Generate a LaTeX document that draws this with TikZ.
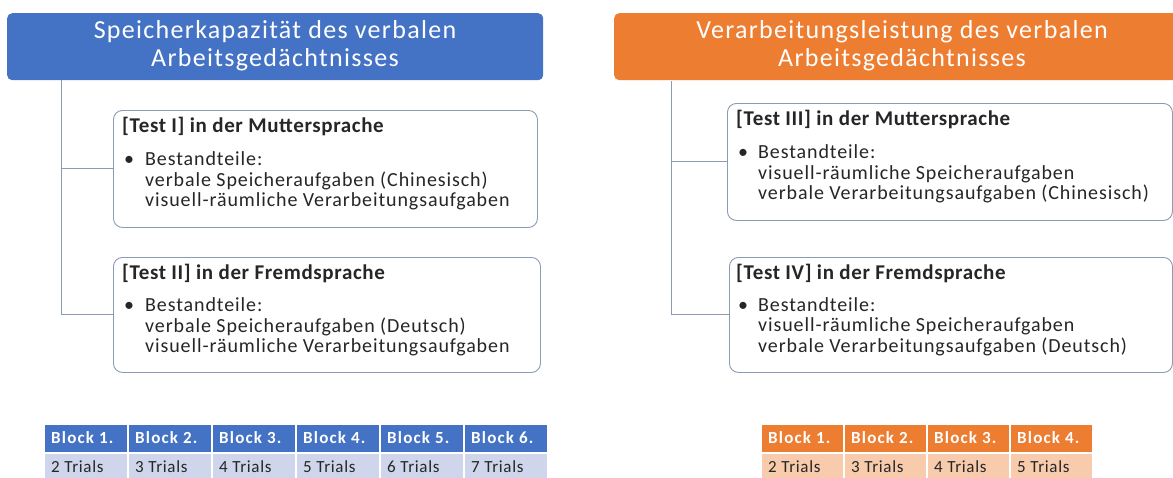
\documentclass[tikz,border=0pt]{standalone}
\usepackage{fontspec}
\setmainfont{Carlito}
\newfontfamily\titlefont[LetterSpace=5]{Carlito}
\newfontfamily\headfont[LetterSpace=3]{Carlito}
\newfontfamily\bodyfont[LetterSpace=4.5]{Carlito}
\newfontfamily\cellbfont[LetterSpace=7]{Carlito}
\newfontfamily\cellfont[LetterSpace=4]{Carlito}
\begin{document}
\begin{tikzpicture}[x=1pt,y=-1pt,
  titlebox/.style={rounded corners=5pt, minimum width=#1, minimum height=67pt, anchor=north west, inner sep=0pt},
  testbox/.style={draw=boxline, line width=0.9pt, rounded corners=9pt, fill=white, anchor=north west, inner sep=0pt},
  conn/.style={draw=connline, line width=1pt},
  titletext/.style={text=white, font=\titlefont\fontsize{26}{28}\selectfont, align=center},
  headtext/.style={font=\headfont\fontsize{21}{22}\selectfont\bfseries, anchor=base west, inner sep=0pt, text=black!85},
  bodytext/.style={font=\bodyfont\fontsize{20}{22}\selectfont, anchor=base west, inner sep=0pt, text=black!85},
  hcell/.style={fill=#1, draw=white, line width=1.5pt, anchor=north west, minimum height=29pt, inner sep=0pt},
  rcell/.style={fill=#1, draw=white, line width=1.5pt, anchor=north west, minimum height=26pt, inner sep=0pt},
  cellhead/.style={font=\cellbfont\fontsize{17}{19}\selectfont\bfseries, text=white, anchor=base west, inner sep=0pt},
  celltext/.style={font=\cellfont\fontsize{17}{19}\selectfont, text=black!85, anchor=base west, inner sep=0pt}
]
\definecolor{hblue}{HTML}{4472C4}
\definecolor{horange}{HTML}{ED7D31}
\definecolor{lblue}{HTML}{CFD5EA}
\definecolor{lorange}{HTML}{F8CBAD}
\definecolor{boxline}{HTML}{8A9BB3}
\definecolor{connline}{HTML}{8A9BB3}

\useasboundingbox (0,0) rectangle (1173,477);
\clip (0,0) rectangle (1173,477);

% ---- left column: storage capacity ----
\node[titlebox=536pt, fill=hblue] (h1) at (7,13) {};
\node[titletext] (h1txt) at (275,46) {Speicherkapazität des verbalen\\Arbeitsgedächtnisses};

\node[testbox, minimum width=424pt, minimum height=117pt] (t1) at (113,110) {};
\node[testbox, minimum width=427pt, minimum height=115pt] (t2) at (113,257) {};
\coordinate (s1) at (61,80);
\draw[conn] (s1) |- (t1.west);
\draw[conn] (s1) |- (t2.west);

\node[headtext] (t1a) at (122,132) {[Test I] in der Muttersprache};
\node[bodytext] (t1b) at (124,165) {•};
\node[bodytext] (t1c) at (145,165) {Bestandteile:};
\node[bodytext] (t1d) at (145,186) {verbale Speicheraufgaben (Chinesisch)};
\node[bodytext] (t1e) at (145,206) {visuell-räumliche Verarbeitungsaufgaben};

\node[headtext] (t2a) at (122,279) {[Test II] in der Fremdsprache};
\node[bodytext] (t2b) at (124,311) {•};
\node[bodytext] (t2c) at (145,311) {Bestandteile:};
\node[bodytext] (t2d) at (145,332) {verbale Speicheraufgaben (Deutsch)};
\node[bodytext] (t2e) at (145,352) {visuell-räumliche Verarbeitungsaufgaben};

% ---- right column: processing performance ----
\node[titlebox=600pt, fill=horange] (h2) at (614,13) {};
\node[titletext] (h2txt) at (902,46) {Verarbeitungsleistung des verbalen\\Arbeitsgedächtnisses};

\node[testbox, minimum width=445pt, minimum height=117pt] (t3) at (727,103) {};
\node[testbox, minimum width=443pt, minimum height=115pt] (t4) at (729,257) {};
\coordinate (s2) at (671,81);
\draw[conn] (s2) |- (t3.west);
\draw[conn] (s2) |- (t4.west);

\node[headtext] (t3a) at (736,125) {[Test III] in der Muttersprache};
\node[bodytext] (t3b) at (738,158) {•};
\node[bodytext] (t3c) at (758,158) {Bestandteile:};
\node[bodytext] (t3d) at (758,179) {visuell-räumliche Speicheraufgaben};
\node[bodytext] (t3e) at (758,199) {verbale Verarbeitungsaufgaben (Chinesisch)};

\node[headtext] (t4a) at (736,279) {[Test IV] in der Fremdsprache};
\node[bodytext] (t4b) at (738,311) {•};
\node[bodytext] (t4c) at (758,311) {Bestandteile:};
\node[bodytext] (t4d) at (758,331) {visuell-räumliche Speicheraufgaben};
\node[bodytext] (t4e) at (758,352) {verbale Verarbeitungsaufgaben (Deutsch)};

% ---- block tables ----
\foreach \i/\t in {1/2,2/3,3/4,4/5,5/6,6/7} {
  \node[hcell=hblue, minimum width=84pt] (lb\i) at ({43+84*(\i-1)},423) {};
  \node[rcell=lblue, minimum width=84pt] (lt\i) at ({43+84*(\i-1)},452) {};
  \node[cellhead] (lbt\i) at ({51+84*(\i-1)},443) {Block \i.};
  \node[celltext] (ltt\i) at ({51+84*(\i-1)},472) {\t\ Trials};
}
\foreach \i/\t in {1/2,2/3,3/4,4/5} {
  \node[hcell=horange, minimum width=83pt] (rb\i) at ({760+83*(\i-1)},423) {};
  \node[rcell=lorange, minimum width=83pt] (rt\i) at ({760+83*(\i-1)},452) {};
  \node[cellhead] (rbt\i) at ({768+83*(\i-1)},443) {Block \i.};
  \node[celltext] (rtt\i) at ({768+83*(\i-1)},472) {\t\ Trials};
}
\end{tikzpicture}
\end{document}
